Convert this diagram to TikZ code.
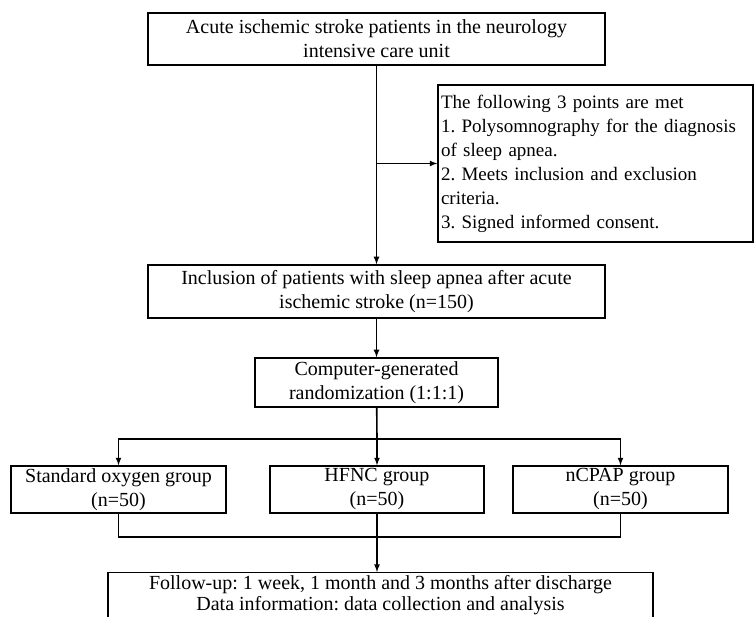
\documentclass[tikz,border=0pt]{standalone}
\usepackage{fontspec}
\setmainfont{Liberation Serif}
\usetikzlibrary{arrows}

\begin{document}
\frenchspacing
\begin{tikzpicture}[x=1pt, y=-1pt, line width=1.6pt, >=latex] %1 Pixel = 1pt, y nach unten
\tikzstyle{every node} = [draw, rectangle, line width=1.3pt, inner sep=0pt, align=center, font=\fontsize{20}{24}\selectfont]
\useasboundingbox (0,0) rectangle (755,617);
\clip (0,0) rectangle (755,617);
\node[minimum width=457, minimum height=52] (top) at (376.5,39) {Acute ischemic stroke patients in the neurology\\intensive care unit};
\node[text width=309, inner xsep=3pt, minimum height=157, align=left, font=\fontsize{19}{24}\selectfont] (met) at (595.5,163.5) {The following 3 points are met\\1. Polysomnography for the diagnosis\\of sleep apnea.\\2. Meets inclusion and exclusion\\criteria.\\3. Signed informed consent.};
\node[minimum width=457, minimum height=53] (incl) at (376.5,291.5) {Inclusion of patients with sleep apnea after acute\\ischemic stroke (n=150)};
\node[minimum width=243, minimum height=49] (rand) at (376.5,382.5) {Computer-generated\\randomization (1:1:1)};
\node[minimum width=215, minimum height=47] (std) at (118.5,489.5) {Standard oxygen group\\(n=50)};
\node[minimum width=214, minimum height=47] (hfnc) at (377,489.5) {HFNC group\\(n=50)};
\node[minimum width=215, minimum height=47] (ncpap) at (620.5,489.5) {nCPAP group\\(n=50)};
\node[minimum width=545, anchor=north, inner ysep=3pt, text depth=30pt, font=\fontsize{20}{21}\selectfont] (follow) at (380.5,572) {Follow-up: 1 week, 1 month and 3 months after discharge\\Data information: data collection and analysis};
\coordinate (split) at (377,439);
\coordinate (merge) at (377,537);
% Hauptlinie
\draw [->] (top) -- (incl);
\draw [->] (top.south |- met.west) -- (met.west);
\draw [->] (incl) -- (rand);
\draw (rand) -- (split);
\foreach \g in {std, hfnc, ncpap}
\draw [->] (split) -| (\g);
\foreach \g in {std, hfnc, ncpap}
\draw (\g) |- (merge);
\draw [->] (merge) -- (merge |- follow.north);
\end{tikzpicture}
\end{document}
